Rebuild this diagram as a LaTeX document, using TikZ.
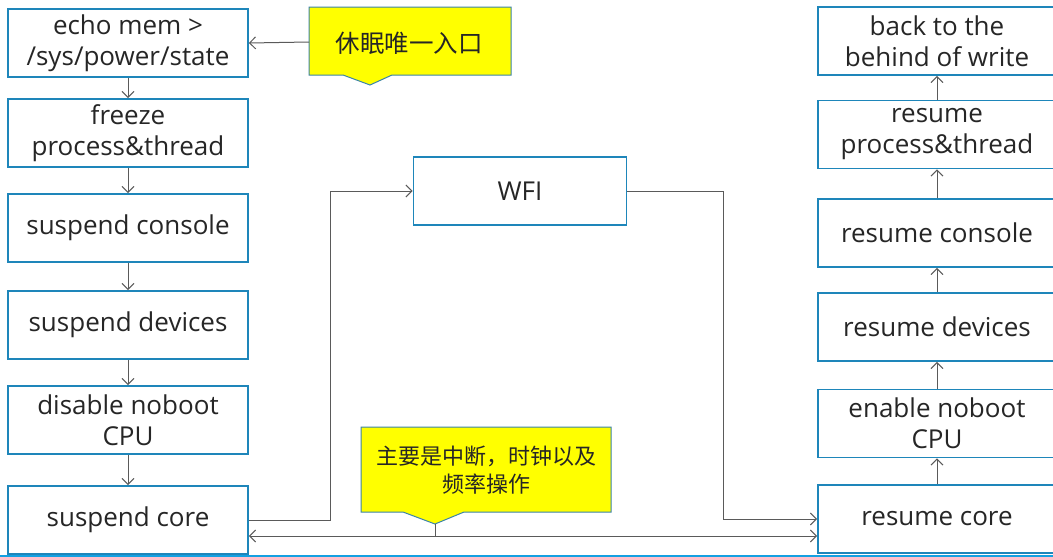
\documentclass[tikz,border=0pt]{standalone}
\usepackage{fontspec}
\setmainfont{Open Sans}
\newfontfamily\cjk{Noto Sans CJK SC}
\usetikzlibrary{arrows.meta}
\definecolor{boxblue}{RGB}{30,134,186}
\definecolor{txt}{RGB}{38,38,38}
\definecolor{arr}{RGB}{90,90,90}
\definecolor{callyel}{RGB}{255,255,0}
\definecolor{edgecyan}{RGB}{20,160,225}
\tikzset{
  box/.style={draw=boxblue, line width=1.8pt, fill=white, text=txt, align=center, inner sep=0pt,
    font=\fontsize{26}{31}\selectfont},
  lbox/.style={box, minimum width=240pt, minimum height=68pt},
  rbox/.style={box, minimum width=238pt, minimum height=68pt},
  conn/.style={draw=arr, line width=1pt, -{Straight Barb[length=6pt,width=12pt,line width=1pt]}},
  plain/.style={draw=arr, line width=1pt},
  callout/.style={fill=callyel, draw=boxblue!70!gray, line width=1pt},
  ctext/.style={text=txt, align=center, inner sep=0pt, font=\cjk\fontsize{24.5}{28}\selectfont},
  ctextsm/.style={ctext, font=\cjk\fontsize{22}{28}\selectfont},
}
\begin{document}
\begin{tikzpicture}[x=1pt,y=-1pt]
\useasboundingbox (0,0) rectangle (1053,557);
\fill[white] (0,0) rectangle (1053,557);
% left column
\node[lbox] (echo) at (128,43) {echo mem >\\/sys/power/state};
\node[lbox] (freeze) at (128,133) {freeze\\process\&thread};
\node[lbox] (scon) at (128,228) {suspend console};
\node[lbox] (sdev) at (128,325) {suspend devices};
\node[lbox] (dis) at (128,420) {disable noboot\\CPU};
\node[lbox] (score) at (128,520) {suspend core};
% right column
\node[rbox] (back) at (937,41) {back to the\\behind of write};
\node[rbox] (rproc) at (937,134.5) {resume\\process\&thread};
\node[rbox] (rcon) at (937,233) {resume console};
\node[rbox] (rdev) at (937,327) {resume devices};
\node[rbox] (en) at (937,423.5) {enable noboot\\CPU};
\node[rbox] (rcore) at (937,519) {resume core};
% WFI
\node[box, minimum width=213pt, minimum height=68pt] (wfi) at (520,191) {WFI};
% callout 1
\coordinate (c1nw) at (309,7);
\coordinate (c1se) at (511,75);
\coordinate (t1) at (370,85);
\path[callout] (c1nw) -- (c1nw -| c1se) -- (c1se) -- (392,75) -- (t1) -- (343,75) -- (c1nw |- c1se) -- cycle;
\node[ctext] (c1) at (409,43) {休眠唯一入口};
\coordinate (c1w) at (309,42);
% callout 2
\coordinate (c2nw) at (361,427);
\coordinate (c2se) at (611,512);
\coordinate (t2) at (435,524);
\path[callout] (c2nw) -- (c2nw -| c2se) -- (c2se) -- (464,512) -- (t2) -- (403,512) -- (c2nw |- c2se) -- cycle;
\node[ctextsm] (c2) at (486,470) {主要是中断，时钟以及\\频率操作};
\coordinate (j) at (435,536);
% connectors
\draw[conn] (c1w) -- (echo.east);
\draw[conn] (echo) -- (freeze);
\draw[conn] (freeze) -- (scon);
\draw[conn] (scon) -- (sdev);
\draw[conn] (sdev) -- (dis);
\draw[conn] (dis) -- (score);
\draw[conn] (rcore) -- (en);
\draw[conn] (en) -- (rdev);
\draw[conn] (rdev) -- (rcon);
\draw[conn] (rcon) -- (rproc);
\draw[conn] (rproc) -- (back);
\draw[conn] (score.east) -- (330,520) |- (wfi.west);
\draw[conn] (wfi.east) -- (723,191) |- (rcore.west);
\draw[plain] (t2) -- (j);
\draw[conn] (j) -- (j -| score.east);
\draw[conn] (j) -- (j -| rcore.west);
% bottom edge line
\draw[edgecyan, line width=2pt] (0,556) -- (1053,556);
\end{tikzpicture}
\end{document}
